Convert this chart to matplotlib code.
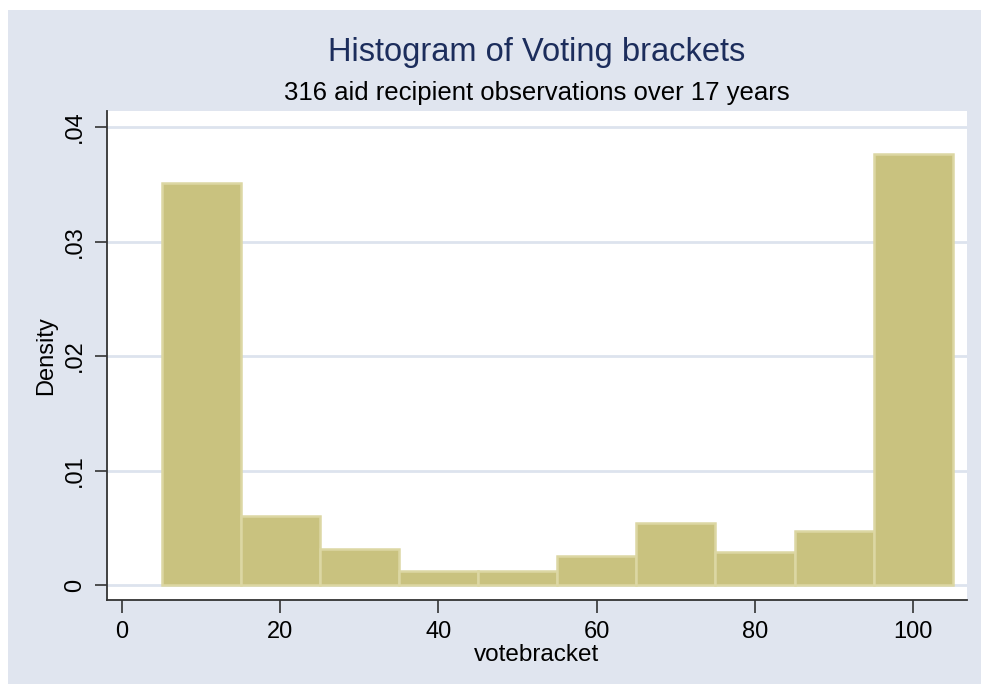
import numpy as np
import matplotlib.pyplot as plt
from matplotlib.patches import Rectangle

plt.rcParams["font.family"] = ["Liberation Sans", "DejaVu Sans"]

# votebracket bins (width 10) and counts per bin, 316 observations
bin_edges = [5, 15, 25, 35, 45, 55, 65, 75, 85, 95, 105]
bin_centers = [10, 20, 30, 40, 50, 60, 70, 80, 90, 100]
counts = [111, 19, 10, 4, 4, 8, 17, 9, 15, 119]

x_ticks = [0, 20, 40, 60, 80, 100]
y_ticks = [0, 0.01, 0.02, 0.03, 0.04]
y_ticklabels = ["0", ".01", ".02", ".03", ".04"]

bg = "#e0e5ef"
fig = plt.figure(figsize=(9.81, 6.84), dpi=100, facecolor="white")
# graph region with thin white margin on top/left
fig.patches.append(Rectangle((8 / 981, 0), 1, 1 - 10 / 684, transform=fig.transFigure,
                             facecolor=bg, edgecolor="none", zorder=-10))

ax = fig.add_axes([107 / 981, 1 - 600 / 684, 860 / 981, 489 / 684])
ax.set_facecolor("white")

ax.hist(bin_centers, bins=bin_edges, weights=counts, density=True,
        color="#c9c27f", edgecolor="#dcd7a3", linewidth=1.8, zorder=3)

ax.set_xlim(-1.9, 106.8)
ax.set_ylim(-0.00131, 0.0414)
ax.set_xticks(x_ticks)
ax.set_yticks(y_ticks)
ax.set_yticklabels(y_ticklabels, rotation=90, va="center")

ax.grid(axis="y", color="#dde3ee", linewidth=2, zorder=0)
for s in ["top", "right"]:
    ax.spines[s].set_visible(False)
for s in ["left", "bottom"]:
    ax.spines[s].set_color("#333333")
    ax.spines[s].set_linewidth(1.3)
ax.tick_params(axis="both", length=9, width=1.2, color="#333333", labelsize=17, pad=6)

ax.set_xlabel("votebracket", fontsize=17.5, labelpad=1)
ax.set_ylabel("Density", fontsize=17, labelpad=5)

fig.text(537 / 981, 1 - 53 / 684, "Histogram of Voting brackets", ha="center", va="center",
         fontsize=23.5, color="#1c2d5c")
fig.text(537 / 981, 1 - 93 / 684, "316 aid recipient observations over 17 years", ha="center",
         va="center", fontsize=18.5, color="black")

fig.savefig("out.png", dpi=100, facecolor=fig.get_facecolor())
